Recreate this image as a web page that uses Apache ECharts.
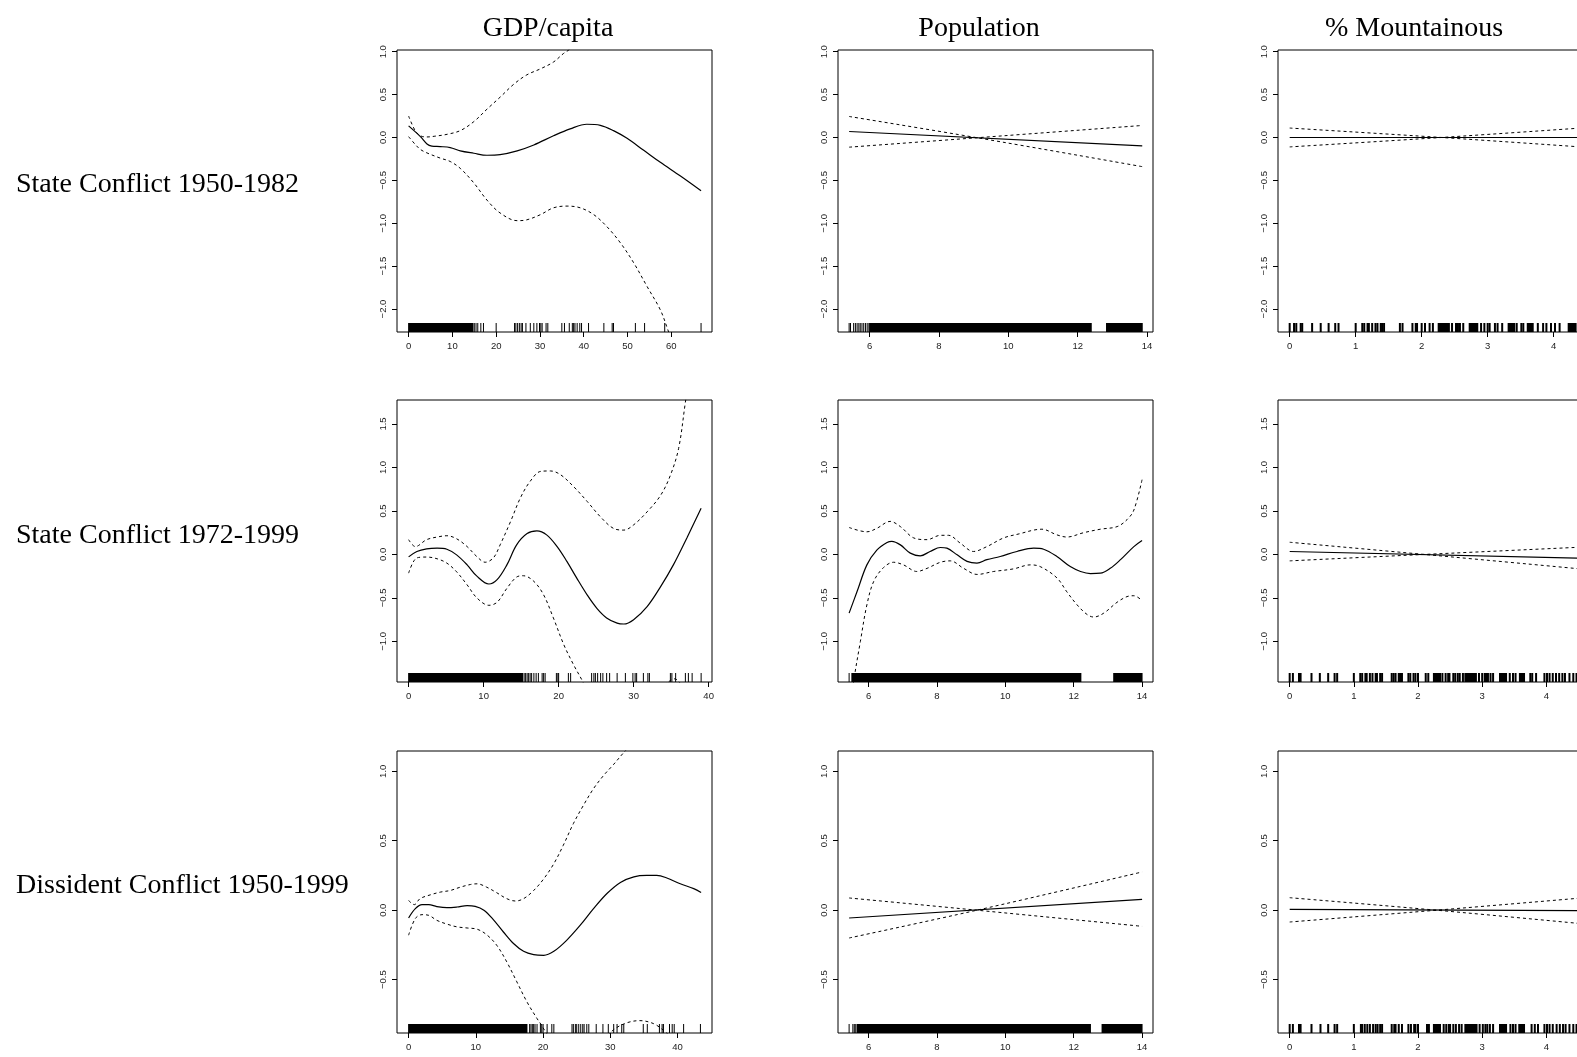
<!DOCTYPE html>
<html>
<head>
<meta charset="utf-8">
<title>GAM smooths</title>
<script src="https://cdn.jsdelivr.net/npm/echarts@6/dist/echarts.min.js"></script>
<style>
  html, body { margin: 0; padding: 0; background: #fff; }
  #main { width: 1577px; height: 1057px; }
</style>
</head>
<body>
<div id="main"></div>
<script>
// row and column labels
var rowNames = ['State Conflict 1950-1982', 'State Conflict 1972-1999', 'Dissident Conflict 1950-1999'];
var colNames = ['GDP/capita', 'Population', '% Mountainous'];

// tick labels
var gdpTicks1 = [0, 10, 20, 30, 40, 50, 60];
var gdpTicks2 = [0, 10, 20, 30, 40];
var popTicks = [6, 8, 10, 12, 14];
var mountTicks = [0, 1, 2, 3, 4];
var yTicks1 = [-2, -1.5, -1, -0.5, 0, 0.5, 1];
var yTicks2 = [-1, -0.5, 0, 0.5, 1, 1.5];
var yTicks3 = [-0.5, 0, 0.5, 1];

// ---- State conflict 1950-1982 ----
var gdpA_fit = [[0,0.135],[2.7,0.01],[4.2,-0.075],[5.3,-0.1],[7.2,-0.106],[9.5,-0.118],[11.8,-0.156],[14.9,-0.184],[17.9,-0.207],[20.9,-0.2],[24.8,-0.156],[28.6,-0.087],[33.1,0.02],[36.9,0.1],[40.7,0.154],[43.8,0.142],[46.8,0.08],[49.9,-0.01],[53.7,-0.15],[57.5,-0.29],[62.1,-0.45],[66.8,-0.622]];
var gdpA_up = [[0,0.25],[1.5,0.08],[2.7,0.02],[4.2,0.006],[6,0.015],[8.8,0.037],[11.8,0.08],[14.9,0.185],[17.9,0.33],[20.9,0.47],[24,0.62],[27,0.73],[30.1,0.8],[33.1,0.88],[35.4,0.98],[36.6,1.02],[39.2,1.12]];
var gdpA_lo = [[0,0.01],[1.5,-0.08],[2.7,-0.14],[4.2,-0.18],[7.2,-0.24],[9.5,-0.28],[11.8,-0.36],[14.9,-0.53],[17.9,-0.73],[20.9,-0.88],[24.8,-0.97],[27,-0.96],[30.1,-0.9],[33.1,-0.82],[36.2,-0.8],[39.2,-0.82],[42.3,-0.9],[45.3,-1.04],[48.4,-1.23],[51.4,-1.46],[54.5,-1.74],[57.5,-2.01],[59.2,-2.24],[60.5,-2.43]];
var gdpA_rug = [15.0,15.4,15.8,16.5,17.1,20.0,24.2,24.5,24.9,25.3,25.7,26.0,26.8,27.8,28.6,29.3,29.9,30.2,30.5,31.4,31.8,35.0,35.6,36.7,37.4,37.7,38.0,38.5,39.1,39.5,41.1,44.6,46.5,46.8,51.8,53.9,58.5,66.8];
var gdpA_rugSpans = [[0,14.7]];

var popA_fit = [[5.41,0.07],[13.86,-0.097]];
var popA_up = [[5.41,0.245],[9.1,-0.003],[13.86,-0.34]];
var popA_lo = [[5.41,-0.113],[9.1,-0.003],[13.86,0.14]];
var popA_rug = [5.41,5.45,5.54,5.59,5.64,5.69,5.73,5.78,5.83,5.88,5.93,5.98];
var popA_rugSpans = [[6.0,12.39],[12.83,13.86]];

var mtnA_fit = [[0,0],[4.6,0]];
var mtnA_up = [[0,0.11],[2.3,0],[4.6,-0.12]];
var mtnA_lo = [[0,-0.11],[2.3,0],[4.6,0.12]];
var mtnA_rug = [0,0.066,0.1,0.167,0.19,0.34,0.47,0.59,0.69,0.74,1.0,1.1,1.13,1.18,1.2,1.25,1.3,1.33,1.38,1.4,1.43,1.67,1.71,1.86,1.91,1.93,2.0,2.05,2.12,2.17,2.46,2.52,2.55,2.58,2.63,2.9,2.95,3.0,3.03,3.11,3.15,3.22,3.44,3.51,3.54,3.76,3.84,3.89,3.96,4.02,4.09];
var mtnA_rugSpans = [[2.25,2.42],[2.72,2.85],[3.31,3.41],[3.6,3.69],[4.22,4.34]];

// ---- State conflict 1972-1999 ----
var gdpB_fit = [[0,-0.028],[1.1,0.034],[2.4,0.064],[3.8,0.072],[5.1,0.06],[6.4,-0.005],[7.8,-0.12],[9.1,-0.25],[10.7,-0.34],[11.8,-0.29],[13.1,-0.12],[14.4,0.11],[15.8,0.24],[17.1,0.27],[18.4,0.225],[19.8,0.09],[21.1,-0.08],[22.4,-0.27],[23.8,-0.465],[25.1,-0.62],[26.4,-0.73],[27.8,-0.79],[28.7,-0.8],[30,-0.75],[31.8,-0.6],[33.6,-0.37],[35.3,-0.12],[37.1,0.19],[39,0.53]];
var gdpB_up = [[0,0.17],[0.9,0.09],[2.4,0.17],[3.8,0.2],[5.1,0.215],[6.4,0.18],[7.8,0.09],[9.1,-0.025],[10.2,-0.09],[11.3,-0.04],[12.2,0.11],[13.6,0.38],[14.9,0.65],[16.2,0.84],[17.6,0.955],[18.9,0.96],[20.2,0.92],[22,0.78],[23.8,0.61],[25.6,0.43],[27.3,0.3],[28.7,0.28],[30,0.34],[31.8,0.49],[33.6,0.68],[34.9,0.91],[36,1.22],[36.9,1.75],[37.3,1.98]];
var gdpB_lo = [[0,-0.215],[1.1,-0.04],[2.4,-0.03],[3.8,-0.05],[5.1,-0.1],[6.4,-0.2],[7.8,-0.35],[9.1,-0.5],[10.7,-0.585],[11.8,-0.55],[13.1,-0.39],[14.4,-0.26],[15.3,-0.245],[16.7,-0.31],[18,-0.465],[19.3,-0.73],[20.7,-1.04],[22,-1.27],[23.2,-1.46],[24.2,-1.65],[27,-2.0],[30,-1.9],[33,-1.58],[34.9,-1.45],[35.4,-1.43],[35.9,-1.45],[37,-1.58],[39,-1.9]];
var gdpB_rug = [15.4,15.6,15.8,16,16.2,16.4,16.7,17,17.3,17.8,18,18.2,19.7,19.9,20,21.3,21.6,24.4,24.7,24.9,25.2,25.6,25.9,26.4,26.8,27.8,28.9,29.9,30.2,30.4,31.3,31.9,32.1,34.9,35.1,35.6,36.9,37.3,37.8,39];
var gdpB_rugSpans = [[0,15.2]];

var popB_fit = [[5.43,-0.675],[5.66,-0.43],[5.95,-0.12],[6.24,0.05],[6.54,0.137],[6.68,0.15],[6.93,0.11],[7.22,0.015],[7.51,-0.016],[7.8,0.034],[8.1,0.08],[8.29,0.072],[8.59,-0.005],[8.88,-0.08],[9.17,-0.1],[9.46,-0.06],[9.85,-0.024],[10.34,0.034],[10.83,0.072],[11.12,0.06],[11.51,-0.024],[11.9,-0.14],[12.2,-0.196],[12.49,-0.22],[12.78,-0.216],[13.07,-0.16],[13.37,-0.06],[13.76,0.09],[14,0.16]];
var popB_up = [[5.43,0.31],[5.95,0.26],[6.24,0.3],[6.63,0.38],[6.93,0.32],[7.32,0.19],[7.71,0.17],[8.1,0.22],[8.34,0.22],[8.68,0.13],[9.07,0.034],[9.46,0.09],[9.95,0.19],[10.44,0.24],[10.83,0.28],[11.07,0.29],[11.51,0.225],[11.8,0.2],[12.29,0.25],[12.78,0.29],[13.27,0.32],[13.56,0.4],[13.76,0.51],[14,0.86]];
var popB_lo = [[5.43,-1.9],[5.56,-1.47],[5.76,-1.0],[5.95,-0.58],[6.15,-0.31],[6.44,-0.15],[6.73,-0.09],[7.02,-0.12],[7.41,-0.196],[7.71,-0.16],[8.1,-0.09],[8.39,-0.074],[8.78,-0.16],[9.17,-0.23],[9.66,-0.196],[10.24,-0.166],[10.73,-0.12],[11.02,-0.14],[11.51,-0.27],[11.8,-0.43],[12.1,-0.58],[12.39,-0.69],[12.59,-0.72],[12.88,-0.675],[13.27,-0.55],[13.56,-0.485],[13.76,-0.475],[14,-0.53]];
var popB_rug = [5.43];
var popB_rugSpans = [[5.51,12.21],[13.17,14.0]];

var mtnB_fit = [[0,0.034],[4.73,-0.047]];
var mtnB_up = [[0,0.14],[2.1,0],[4.73,-0.18]];
var mtnB_lo = [[0,-0.074],[2.1,0],[4.73,0.09]];
var mtnB_rug = [0,0.05,0.145,0.17,0.34,0.47,0.6,0.7,0.74,1.0,1.1,1.13,1.18,1.2,1.25,1.29,1.34,1.36,1.41,1.44,1.59,1.62,1.65,1.7,1.72,1.75,1.85,1.88,1.93,1.96,2.0,2.12,2.16,2.38,2.43,2.47,2.49,2.55,2.58,2.62,2.65,2.7,2.95,3.0,3.04,3.06,3.09,3.13,3.17,3.43,3.48,3.52,3.75,3.78,3.84,3.97,4.01,4.05,4.1,4.15,4.2,4.25,4.29,4.36,4.42,4.47];
var mtnB_rugSpans = [[2.24,2.35],[2.73,2.91],[3.27,3.38],[3.58,3.66]];

// ---- Dissident conflict 1950-1999 ----
var gdpC_fit = [[0,-0.056],[1,0.011],[2,0.04],[3,0.04],[4.2,0.026],[5.7,0.018],[7.2,0.023],[8.7,0.033],[9.9,0.028],[11.2,0],[12.6,-0.068],[14.1,-0.157],[15.6,-0.24],[17.1,-0.296],[18.6,-0.32],[20.1,-0.325],[21.6,-0.296],[23.5,-0.217],[25.5,-0.11],[27.5,0.011],[29.5,0.12],[31.5,0.2],[33.5,0.24],[35.4,0.25],[36.9,0.25],[38.4,0.232],[40.4,0.19],[42.4,0.155],[43.5,0.127]];
var gdpC_up = [[0,0.07],[0.85,0.04],[1.7,0.083],[3.2,0.11],[4.7,0.13],[6.2,0.142],[7.7,0.166],[9.2,0.185],[10.2,0.19],[11.6,0.166],[13.1,0.126],[14.6,0.083],[15.9,0.066],[17.1,0.083],[18.6,0.142],[20.1,0.226],[21.6,0.335],[23,0.467],[24.5,0.623],[26,0.755],[27.5,0.875],[29,0.97],[30.5,1.05],[32,1.135],[33.5,1.21]];
var gdpC_lo = [[0,-0.18],[1,-0.06],[2,-0.032],[3,-0.037],[4.2,-0.073],[5.7,-0.1],[7.2,-0.12],[8.7,-0.128],[10.2,-0.137],[11.6,-0.176],[13.1,-0.252],[14.6,-0.372],[16.1,-0.516],[17.6,-0.66],[19.1,-0.78],[19.8,-0.83],[20.3,-0.87],[22,-0.98],[25,-1.05],[28,-0.98],[30.5,-0.86],[32.5,-0.81],[34.4,-0.795],[36.4,-0.816],[37.9,-0.865],[40,-0.96],[43.5,-1.15]];
var gdpC_rug = [18,18.2,18.4,18.6,18.8,19.1,19.6,19.8,20,20.6,21.3,21.6,24.3,24.5,24.8,25,25.3,25.6,25.9,26.1,26.5,26.8,27.9,28.9,29.7,30.5,31,31.7,32,34.9,35.5,37.3,37.7,37.9,38.8,39.2,39.5,40.9,43.4];
var gdpC_rugSpans = [[0,17.6]];

var popC_fit = [[5.43,-0.056],[14,0.078]];
var popC_up = [[5.43,0.088],[9.17,0],[14,-0.116]];
var popC_lo = [[5.43,-0.2],[9.17,0],[14,0.275]];
var popC_rug = [5.43,5.54,5.58,5.61];
var popC_rugSpans = [[5.66,12.49],[12.83,14.0]];

var mtnC_fit = [[0,0.006],[4.73,-0.004]];
var mtnC_up = [[0,0.09],[2.29,0],[4.73,-0.105]];
var mtnC_lo = [[0,-0.085],[2.29,0],[4.73,0.095]];
var mtnC_rug = [0,0.05,0.145,0.17,0.34,0.48,0.6,0.7,0.74,1.0,1.11,1.13,1.17,1.21,1.25,1.3,1.34,1.37,1.41,1.44,1.59,1.63,1.65,1.7,1.75,1.85,1.89,1.94,1.96,2.0,2.14,2.17,2.4,2.44,2.48,2.5,2.55,2.59,2.64,2.68,2.96,3.01,3.05,3.08,3.12,3.17,3.44,3.48,3.52,3.77,3.82,3.87,3.97,4.01,4.05,4.1,4.16,4.21,4.26,4.3,4.36,4.42,4.47];
var mtnC_rugSpans = [[2.24,2.35],[2.73,2.92],[3.27,3.38],[3.57,3.66]];

// axis ranges (R pads data range by 4%)
var yMinRow = [-2.268, -1.467, -0.884];
var yMaxRow = [1.02, 1.776, 1.146];
var yTicksRow = [yTicks1, yTicks2, yTicks3];

var panels = [
  {r:0, c:0, xMin:-2.65, xMax:69.3, ticks:gdpTicks1, fit:gdpA_fit, up:gdpA_up, lo:gdpA_lo, rug:gdpA_rug, spans:gdpA_rugSpans},
  {r:0, c:1, xMin:5.089, xMax:14.17, ticks:popTicks, fit:popA_fit, up:popA_up, lo:popA_lo, rug:popA_rug, spans:popA_rugSpans},
  {r:0, c:2, xMin:-0.177, xMax:4.596, ticks:mountTicks, fit:mtnA_fit, up:mtnA_up, lo:mtnA_lo, rug:mtnA_rug, spans:mtnA_rugSpans},
  {r:1, c:0, xMin:-1.55, xMax:40.45, ticks:gdpTicks2, fit:gdpB_fit, up:gdpB_up, lo:gdpB_lo, rug:gdpB_rug, spans:gdpB_rugSpans},
  {r:1, c:1, xMin:5.105, xMax:14.32, ticks:popTicks, fit:popB_fit, up:popB_up, lo:popB_lo, rug:popB_rug, spans:popB_rugSpans},
  {r:1, c:2, xMin:-0.182, xMax:4.727, ticks:mountTicks, fit:mtnB_fit, up:mtnB_up, lo:mtnB_lo, rug:mtnB_rug, spans:mtnB_rugSpans},
  {r:2, c:0, xMin:-1.725, xMax:45.12, ticks:gdpTicks2, fit:gdpC_fit, up:gdpC_up, lo:gdpC_lo, rug:gdpC_rug, spans:gdpC_rugSpans},
  {r:2, c:1, xMin:5.105, xMax:14.32, ticks:popTicks, fit:popC_fit, up:popC_up, lo:popC_lo, rug:popC_rug, spans:popC_rugSpans},
  {r:2, c:2, xMin:-0.182, xMax:4.727, ticks:mountTicks, fit:mtnC_fit, up:mtnC_up, lo:mtnC_lo, rug:mtnC_rug, spans:mtnC_rugSpans}
];

// layout
var colLeft = [397, 838, 1278];
var rowTop = [50, 400, 751];
var boxW = 315, boxH = 282;
var rugLen = 9;
var tickFont = 'Liberation Sans';
var labelFont = "'Liberation Serif', 'DejaVu Serif', serif";

function fmtY(v) {
  return v.toFixed(1).replace('-', '\u2212');
}

var grids = [], xAxes = [], yAxes = [], series = [];

panels.forEach(function (p, i) {
  var yMin = yMinRow[p.r];
  grids.push({
    left: colLeft[p.c], top: rowTop[p.r], width: boxW, height: boxH,
    show: true, borderColor: '#000', borderWidth: 1, backgroundColor: 'transparent',
    containLabel: false, outerBoundsMode: 'none'
  });
  xAxes.push({
    type: 'value', gridIndex: i, min: p.xMin, max: p.xMax, position: 'bottom',
    axisLine: { show: false, onZero: false },
    splitLine: { show: false },
    axisTick: { show: true, length: 5, customValues: p.ticks, lineStyle: { color: '#000', width: 1 } },
    axisLabel: { customValues: p.ticks, margin: 9, color: '#222', fontSize: 9.5, fontFamily: tickFont }
  });
  yAxes.push({
    type: 'value', gridIndex: i, min: yMin, max: yMaxRow[p.r], position: 'left',
    axisLine: { show: false, onZero: false },
    splitLine: { show: false },
    axisTick: { show: true, length: 5, customValues: yTicksRow[p.r], lineStyle: { color: '#000', width: 1 } },
    axisLabel: { customValues: yTicksRow[p.r], rotate: 90, margin: 9, color: '#222', fontSize: 9.5, fontFamily: tickFont, formatter: fmtY }
  });

  series.push({
    type: 'line', xAxisIndex: i, yAxisIndex: i, data: p.fit,
    showSymbol: false, smooth: 0.35, silent: true, clip: true,
    lineStyle: { color: '#000', width: 1.2 }
  });
  [p.up, p.lo].forEach(function (band) {
    series.push({
      type: 'line', xAxisIndex: i, yAxisIndex: i, data: band,
      showSymbol: false, smooth: 0.35, silent: true, clip: true,
      lineStyle: { color: '#000', width: 1, type: [3, 3] }
    });
  });

  var rugW = p.c === 2 ? 2 : 1;
  series.push({
    type: 'custom', xAxisIndex: i, yAxisIndex: i, silent: true,
    data: p.rug.map(function (v) { return [v]; }),
    encode: { x: 0 },
    renderItem: function (params, api) {
      var pt = api.coord([api.value(0), yMin]);
      return {
        type: 'line',
        shape: { x1: pt[0], y1: pt[1], x2: pt[0], y2: pt[1] - rugLen },
        style: { stroke: '#000', lineWidth: rugW }
      };
    }
  });
  series.push({
    type: 'custom', xAxisIndex: i, yAxisIndex: i, silent: true,
    data: p.spans,
    encode: { x: [0, 1] },
    renderItem: function (params, api) {
      var a = api.coord([api.value(0), yMin]);
      var b = api.coord([api.value(1), yMin]);
      return {
        type: 'rect',
        shape: { x: a[0] - 0.5, y: a[1] - rugLen, width: b[0] - a[0] + 1, height: rugLen },
        style: { fill: '#000' }
      };
    }
  });
});

var graphics = [];
var rowMid = [185, 535.5, 886];
rowNames.forEach(function (t, r) {
  graphics.push({ type: 'text', x: 16, y: rowMid[r],
    style: { text: t, font: '28px ' + labelFont, fill: '#000', textAlign: 'left', textVerticalAlign: 'middle' } });
});
var colMid = [548, 979, 1414];
colNames.forEach(function (t, c) {
  graphics.push({ type: 'text', x: colMid[c], y: 29,
    style: { text: t, font: '28px ' + labelFont, fill: '#000', textAlign: 'center', textVerticalAlign: 'middle' } });
});

var chart = echarts.init(document.getElementById('main'));
chart.setOption({
  animation: false,
  backgroundColor: '#fff',
  grid: grids,
  xAxis: xAxes,
  yAxis: yAxes,
  series: series,
  graphic: graphics
});
</script>
</body>
</html>
